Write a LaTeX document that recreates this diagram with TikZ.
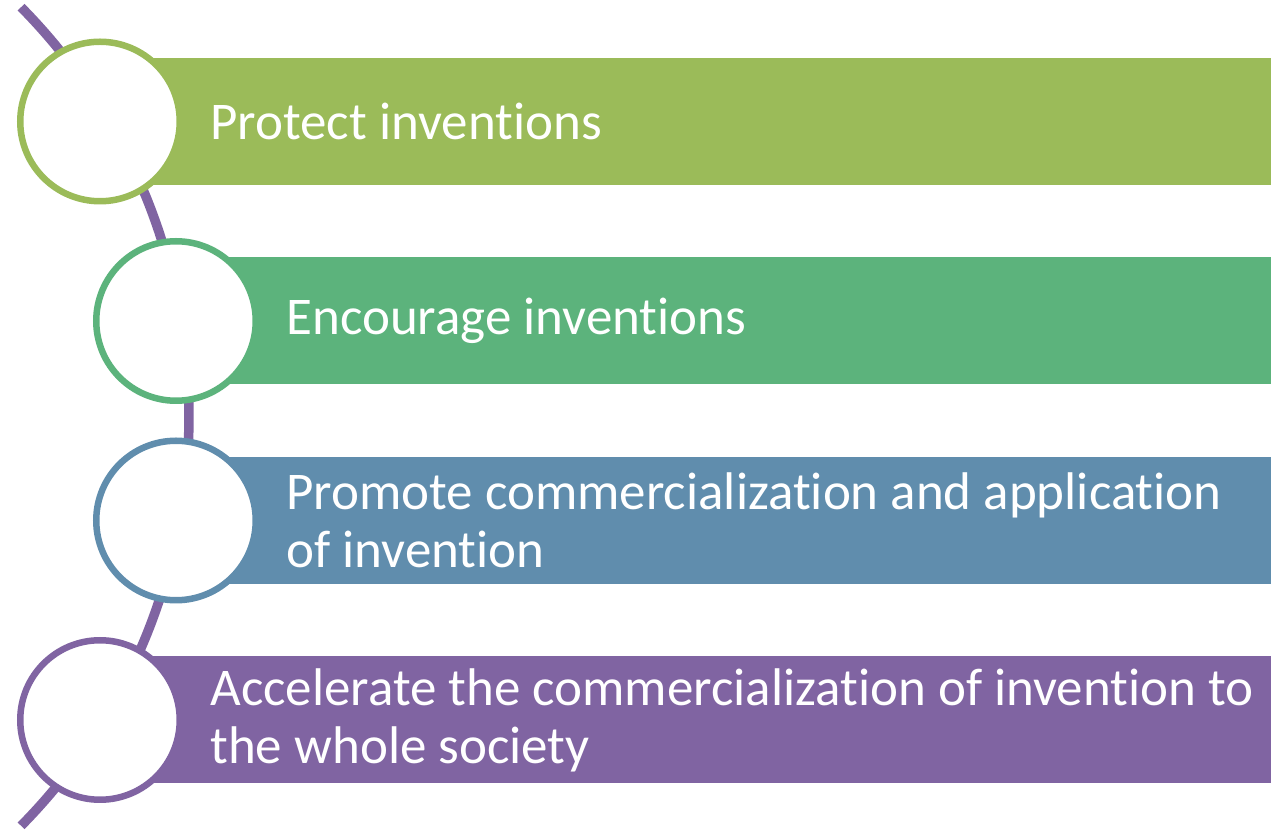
\documentclass[tikz,border=0pt]{standalone}
\usepackage{fontspec}
\setmainfont{Carlito}[Ligatures={NoCommon,NoContextual}, Contextuals=NoAlternate]
\usepackage{tikz}
\definecolor{itemgreen}{RGB}{155,187,89}
\definecolor{itemteal}{RGB}{92,179,124}
\definecolor{itemblue}{RGB}{96,141,173}
\definecolor{itempurple}{RGB}{128,100,162}
\tikzset{
    ring/.style={circle, fill=white, line width=3.25pt, inner sep=0pt, minimum size=79.75pt},
    itemtext/.style={text=white, inner sep=0pt, anchor=west, align=left,
        font=\fontsize{26.5}{29}\selectfont}
}
\newcommand{\drawitem}[5]{
    % coloured band running out to the right edge
    \fill[#2] (#3,#4-63.5) rectangle (1271,#4+63.5);
    % white ring sitting on the spine
    \node[ring, draw=#2] (ring#1) at (#3,#4) {};
    % label inside the band
    \node[itemtext] (text#1) at (#3+110,#4) {#5};
}

\begin{document}
\begin{tikzpicture}[x=0.5pt, y=-0.5pt]
    \useasboundingbox (0,0) rectangle (1271,833);

    % curved spine behind the rings
    \draw[itempurple, line width=4.75pt, domain=-44.6:44.6, samples=80, smooth]
        plot ({-394+583*cos(\x)}, {416.5+583*sin(\x)});

    \drawitem{1}{itemgreen}{100}{121.5}{Protect inventions}
    \drawitem{2}{itemteal}{176}{321}{Encourage inventions}
    \drawitem{3}{itemblue}{176}{520.5}{Promote commercialization and application\\of invention}
    \drawitem{4}{itempurple}{100}{720}{Accelerate the commercialization of invention to\\the whole society}
\end{tikzpicture}
\end{document}
